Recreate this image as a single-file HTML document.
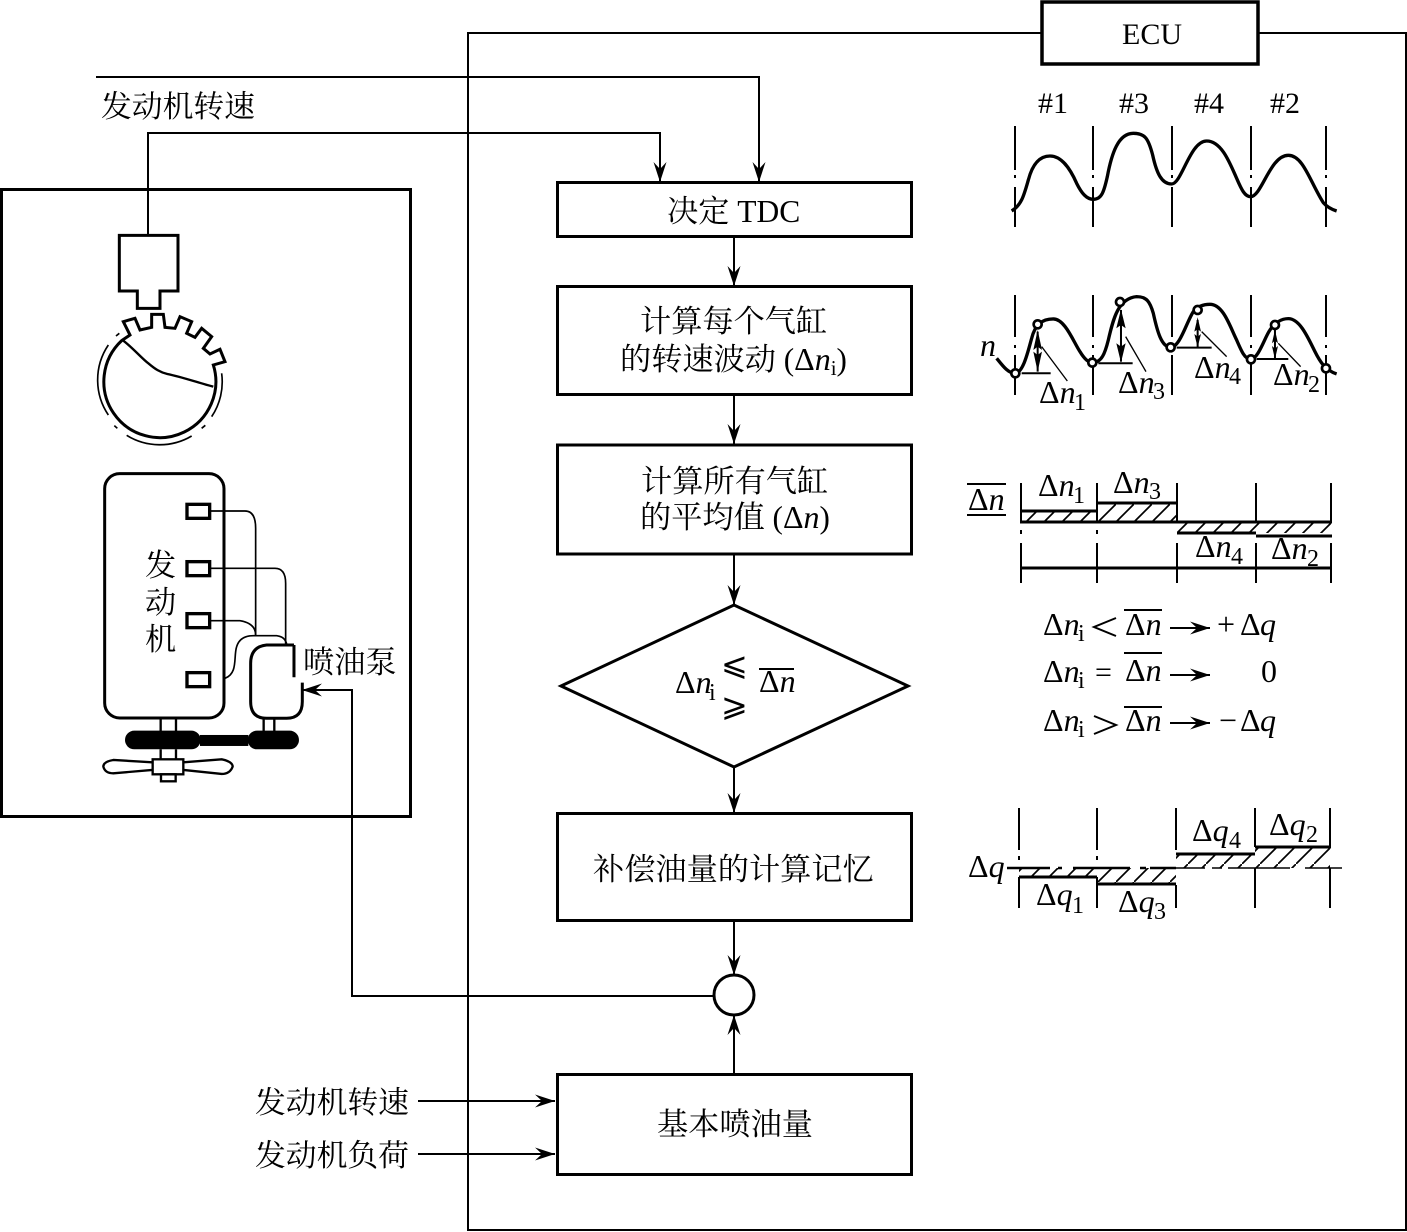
<!DOCTYPE html>
<html><head><meta charset="utf-8"><style>
html,body{margin:0;padding:0;background:#fff}
svg{display:block}
text{fill:#000}
.c{font-family:"Liberation Serif","Noto Serif CJK SC",serif;font-size:31.2px}
.l{font-family:"Liberation Serif","Noto Serif CJK SC",serif;font-size:30.8px}
.m{font-family:"Liberation Serif","Noto Serif CJK SC",serif;font-size:30px}
.d{font-family:"Liberation Serif",serif;font-size:32px}
.s{font-family:"Liberation Serif",serif;font-size:24px}
.i{font-style:italic}
</style></head><body>
<svg xmlns="http://www.w3.org/2000/svg" width="1407" height="1232" viewBox="0 0 1407 1232">
<defs>
<marker id="a" viewBox="-20 -7 20 14" refX="0" refY="0" markerWidth="20" markerHeight="14" markerUnits="userSpaceOnUse" orient="auto"><path d="M0 0L-20 -6.5L-13 0L-20 6.5Z" fill="#000"/></marker>
<pattern id="h" patternUnits="userSpaceOnUse" width="18" height="18"><path d="M-2 20L20 -2" stroke="#000" stroke-width="1.7"/></pattern>
</defs>
<rect width="1407" height="1232" fill="#fff"/>

<!-- frames -->
<g fill="none" stroke="#000">
<path d="M1041 33H468V1230H1406V33H1258" stroke-width="2"/>
<rect x="1042" y="2" width="216" height="62" stroke-width="3.5"/>
<rect x="1.5" y="189.500" width="409" height="627" stroke-width="3"/>
<rect x="557.500" y="182.500" width="354" height="54" stroke-width="3"/>
<rect x="557.500" y="286.500" width="354" height="108" stroke-width="3"/>
<rect x="557.500" y="445" width="354" height="109" stroke-width="3"/>
<path d="M561 686L734 605L908 686L734 767Z" stroke-width="3"/>
<rect x="557.500" y="813.500" width="354" height="107" stroke-width="3"/>
<circle cx="734" cy="995" r="20" stroke-width="3"/>
<rect x="557.500" y="1074.500" width="354" height="100" stroke-width="3"/>
</g>

<!-- connectors -->
<g fill="none" stroke="#000" stroke-width="2">
<path d="M96 77H759V182" marker-end="url(#a)"/>
<path d="M148 235V133H660V182" marker-end="url(#a)"/>
<path d="M734 237V286" marker-end="url(#a)"/>
<path d="M734 395V444" marker-end="url(#a)"/>
<path d="M734 555V605" marker-end="url(#a)"/>
<path d="M734 767V813" marker-end="url(#a)"/>
<path d="M734 921V975" marker-end="url(#a)"/>
<path d="M734 1074V1015" marker-end="url(#a)"/>
<path d="M714 996H352V690H302" marker-end="url(#a)"/>
<path d="M418 1101H555" marker-end="url(#a)"/>
<path d="M418 1154H555" marker-end="url(#a)"/>
</g>

<!-- flowchart labels -->
<text class="m" x="1122" y="44">ECU</text>
<text class="l" x="101" y="117">发动机转速</text>
<text class="c" x="667" y="222">决定<tspan font-size="31.500"> TDC</tspan></text>
<text class="c" x="640" y="332">计算每个气缸</text>
<text class="c" x="620" y="370">的转速波动 (<tspan class="d">Δ<tspan class="i">n</tspan></tspan><tspan font-size="21" dy="5">i</tspan><tspan dy="-5">)</tspan></text>
<text class="c" x="641" y="492">计算所有气缸</text>
<text class="c" x="640" y="528">的平均值 (<tspan class="d">Δ<tspan class="i">n</tspan></tspan>)</text>
<text class="c" x="593" y="880">补偿油量的计算记忆</text>
<text class="c" x="657" y="1135">基本喷油量</text>
<text class="l" x="255" y="1113">发动机转速</text>
<text class="l" x="255" y="1166">发动机负荷</text>
<text class="c" x="145" y="576">发</text>
<text class="c" x="145" y="613">动</text>
<text class="c" x="145" y="650">机</text>
<text class="c" x="303" y="673">喷油泵</text>

<!-- diamond formula -->
<text class="d" x="675" y="693">Δ<tspan class="i">n</tspan></text>
<text class="s" x="709" y="700" font-size="22">i</text>
<text x="721" y="675" font-family="DejaVu Sans,sans-serif" font-size="32" font-weight="200">⩽</text>
<text x="721" y="716" font-family="DejaVu Sans,sans-serif" font-size="32" font-weight="200">⩾</text>
<text class="d" x="759" y="692">Δ<tspan class="i">n</tspan></text>
<path d="M759 669H794" stroke="#000" stroke-width="2"/>

<!-- sensor wheel -->
<g transform="translate(80 220) scale(.3333)" fill="none" stroke="#000">
<path d="M118 46H294V213H240V265H172V213H118Z" stroke-width="9"/>
<path d="M125 362L150 345L130 305L165 295L180 330L215 322L215 283L250 283L255 322L285 325L300 290L335 305L320 340L345 352L365 325L395 350L370 385L390 402L420 388L435 425L400 435A168 168 0 1 1 125 362Z" stroke-width="9"/>
<path d="M130 362C160 385 185 415 205 430C225 447 240 457 262 462C310 472 360 490 400 500" stroke-width="7"/>
<path d="M108 348L118 340M85 375A188 188 0 0 0 85 585M103 617L112 625M140 646A188 188 0 0 0 335 648M365 625L376 616M395 590A188 188 0 0 0 425 460" stroke-width="5"/>
</g>

<!-- engine -->
<g transform="translate(90 460) scale(.3333)" fill="none" stroke="#000">
<rect x="44" y="41" width="358" height="733" rx="45" stroke-width="9"/>
<g stroke-width="10">
<rect x="291" y="133" width="68" height="42"/>
<rect x="291" y="305" width="68" height="42"/>
<rect x="291" y="461" width="68" height="42"/>
<rect x="291" y="638" width="68" height="42"/>
</g>
<g stroke-width="5">
<path d="M360 153H465Q497 153 497 205V525"/>
<path d="M360 325H555Q587 325 587 370V552"/>
<path d="M360 482H450Q497 490 497 525"/>
<path d="M405 655C445 640 430 590 440 560Q450 527 490 527H560Q585 530 590 552"/>
</g>
<path d="M612 555H530Q482 560 482 610V725Q482 775 530 775H590Q637 775 637 725V668M612 555V652" stroke-width="9"/>
<path d="M212 775V815M258 775V815M521 775V815M553 775V815M212 868V900M258 868V900" stroke-width="7"/>
<rect x="105" y="812" width="227" height="56" rx="28" fill="#000" stroke="none"/>
<rect x="330" y="825" width="145" height="33" fill="#000" stroke="none"/>
<rect x="473" y="812" width="154" height="56" rx="28" fill="#000" stroke="none"/>
<rect x="188" y="898" width="92" height="45" stroke-width="7"/>
<rect x="213" y="943" width="44" height="21" stroke-width="7"/>
<path d="M187 907L70 900Q40 905 40 920Q45 940 70 940L187 930M280 907L395 898Q428 905 428 920Q420 942 395 942L280 930" stroke-width="7"/>
</g>

<!-- waveforms -->
<g stroke="#000" fill="none" stroke-width="2">
<path d="M1015 126V170M1015 175V178M1015 187V227M1093 126V170M1093 175V178M1093 187V227M1172 126V170M1172 175V178M1172 187V227M1251 126V170M1251 175V178M1251 187V227M1326 126V170M1326 175V178M1326 187V227"/>
<path d="M1015 295V337M1015 345V348M1015 355V395M1093 295V337M1093 345V348M1093 355V395M1172 295V337M1172 345V348M1172 355V395M1251 295V337M1251 345V348M1251 355V395M1326 295V337M1326 345V348M1326 355V395"/>
</g>
<g transform="translate(960 80) scale(.3333)" fill="none" stroke="#000">
<path stroke-width="10" d="M155 393C185 375 192 345 205 300C218 250 240 228 270 228C305 228 330 265 350 310C365 340 380 358 400 358C425 358 432 335 442 290C455 220 475 160 520 160C555 160 565 175 578 225C590 280 605 312 635 312C665 312 690 183 740 183C785 183 810 250 830 295C845 330 855 350 872 350C905 350 930 226 985 226C1030 226 1050 305 1090 368C1102 382 1115 388 1130 393"/>
<path stroke-width="10" d="M110 835C130 860 145 880 165 880C190 880 205 810 215 775C225 735 245 717 280 717C315 717 340 785 360 815C372 835 385 848 397 848C425 848 435 820 445 780C460 715 475 655 530 650C560 650 570 665 580 700C592 755 605 802 632 802C660 802 680 725 700 695C712 680 730 673 750 673C790 673 810 740 830 780C845 815 855 838 872 838C895 838 915 770 930 750C945 728 965 716 985 716C1020 716 1045 775 1065 815C1080 845 1095 870 1130 882"/>
<path stroke-width="6" d="M185 880H272M415 850H518M650 803H755M890 837H985M233 755V875M483 690V845M713 720V800M945 750V835"/>
<path stroke-width="4" d="M245 800L322 903M497 770L558 875M725 755L800 830M955 790L1022 860"/>
<g fill="#fff" stroke-width="8">
<circle cx="166" cy="880" r="12"/><circle cx="233" cy="733" r="12"/><circle cx="397" cy="848" r="12"/><circle cx="480" cy="666" r="12"/><circle cx="632" cy="802" r="12"/><circle cx="713" cy="690" r="12"/><circle cx="873" cy="838" r="12"/><circle cx="945" cy="735" r="12"/><circle cx="1098" cy="865" r="12"/>
</g>
<g fill="#000" stroke="none">
<path d="M233 750L220 810L233 800L246 810ZM233 875L220 815L233 825L246 815Z"/>
<path d="M483 688L469 745L483 735L497 745ZM483 848L469 790L483 800L497 790Z"/>
<path d="M713 712L703 755L713 748L723 755ZM713 802L703 762L713 770L723 762Z"/>
<path d="M945 750L936 790L945 782L954 790ZM945 838L936 798L945 806L954 798Z"/>
</g>
</g>

<g>
<text class="m" x="1038" y="113">#1</text><text class="m" x="1119" y="113">#3</text><text class="m" x="1194" y="113">#4</text><text class="m" x="1270" y="113">#2</text>
<text class="d i" x="980" y="356">n</text>
<text class="d" x="1039" y="403">Δ<tspan class="i">n</tspan></text><text class="s" x="1074" y="410">1</text>
<text class="d" x="1118" y="393">Δ<tspan class="i">n</tspan></text><text class="s" x="1153" y="399">3</text>
<text class="d" x="1194" y="378">Δ<tspan class="i">n</tspan></text><text class="s" x="1229" y="384">4</text>
<text class="d" x="1273" y="385">Δ<tspan class="i">n</tspan></text><text class="s" x="1308" y="392">2</text>
</g>

<!-- Δn bars -->
<path d="M1021 522V511H1097V522ZM1097 522V503H1177V522ZM1177 522H1331V533H1177Z" fill="url(#h)"/>
<g stroke="#000" fill="none">
<path stroke-width="2" d="M1021 483V523M1097 483V523M1177 483V523M1256 483V523M1331 483V523M1021 530V534M1097 530V534M1021 543V583M1097 543V583M1177 543V583M1256 543V583M1331 543V583"/>
<path stroke-width="3" d="M1020 522H1332M1021 511H1097M1097 503H1177M1177 533H1256M1256 536H1332M1021 568H1331"/>
<path stroke-width="2" d="M967 484H1006M967 515H1006"/>
</g>
<text class="d" x="968" y="510">Δ<tspan class="i">n</tspan></text>
<text class="d" x="1038" y="496">Δ<tspan class="i">n</tspan></text><text class="s" x="1073" y="503">1</text>
<text class="d" x="1113" y="493">Δ<tspan class="i">n</tspan></text><text class="s" x="1149" y="499">3</text>
<text class="d" x="1195" y="557">Δ<tspan class="i">n</tspan></text><text class="s" x="1231" y="564">4</text>
<text class="d" x="1271" y="559">Δ<tspan class="i">n</tspan></text><text class="s" x="1307" y="566">2</text>

<!-- rules -->
<g>
<text class="d" x="1043" y="635">Δ<tspan class="i">n</tspan></text><text class="s" x="1078" y="641">i</text>
<path d="M1116 618L1094 627L1116 636" fill="none" stroke="#000" stroke-width="2"/>
<text class="d" x="1125" y="635">Δ<tspan class="i">n</tspan></text>
<path d="M1124 610H1162M1124 653H1162M1124 707H1162" stroke="#000" stroke-width="2"/>
<path d="M1170 628H1210" stroke="#000" stroke-width="2" marker-end="url(#a)"/>
<text class="d" x="1217" y="635">+<tspan x="1240">Δ</tspan><tspan x="1260" class="i">q</tspan></text>
<text class="d" x="1043" y="682">Δ<tspan class="i">n</tspan></text><text class="s" x="1078" y="688">i</text>
<text class="m" x="1095" y="682">=</text>
<text class="d" x="1125" y="681">Δ<tspan class="i">n</tspan></text>
<path d="M1170 675H1210" stroke="#000" stroke-width="2" marker-end="url(#a)"/>
<text class="d" x="1261" y="682">0</text>
<text class="d" x="1043" y="731">Δ<tspan class="i">n</tspan></text><text class="s" x="1078" y="737">i</text>
<path d="M1094 716L1116 725L1094 734" fill="none" stroke="#000" stroke-width="2"/>
<text class="d" x="1125" y="731">Δ<tspan class="i">n</tspan></text>
<path d="M1170 723H1210" stroke="#000" stroke-width="2" marker-end="url(#a)"/>
<text class="d" x="1219" y="731">−<tspan x="1240">Δ</tspan><tspan x="1260" class="i">q</tspan></text>
</g>

<!-- Δq bars -->
<path d="M1019 868H1097V877H1019ZM1097 868H1176V884H1097ZM1176 854H1255V868H1176ZM1255 847H1330V868H1255Z" fill="url(#h)"/>
<g stroke="#000" fill="none">
<path stroke-width="2" d="M1019 808V850M1097 808V850M1176 808V850M1255 808V847M1330 808V847M1019 856V860M1097 856V860M1019 877V908M1097 877V908M1176 885V908M1255 868V908M1330 868V908"/>
<path stroke-width="3" d="M1019 877H1097M1097 884H1176M1176 854H1255M1255 847H1331"/>
<path stroke-width="2.500" d="M1007 868H1050M1058 868H1062M1073 868H1130M1140 868H1146M1150 868H1176"/>
<path stroke-width="1.500" d="M1176 868H1205M1212 868H1222M1228 868H1290M1305 868H1342"/>
</g>
<text class="d" x="968" y="877">Δ<tspan class="i">q</tspan></text>
<text class="d" x="1036" y="905">Δ<tspan class="i">q</tspan></text><text class="s" x="1072" y="913">1</text>
<text class="d" x="1118" y="912">Δ<tspan class="i">q</tspan></text><text class="s" x="1154" y="919">3</text>
<text class="d" x="1192" y="841">Δ<tspan class="i">q</tspan></text><text class="s" x="1229" y="848">4</text>
<text class="d" x="1269" y="835">Δ<tspan class="i">q</tspan></text><text class="s" x="1306" y="842">2</text>
</svg>
</body></html>
